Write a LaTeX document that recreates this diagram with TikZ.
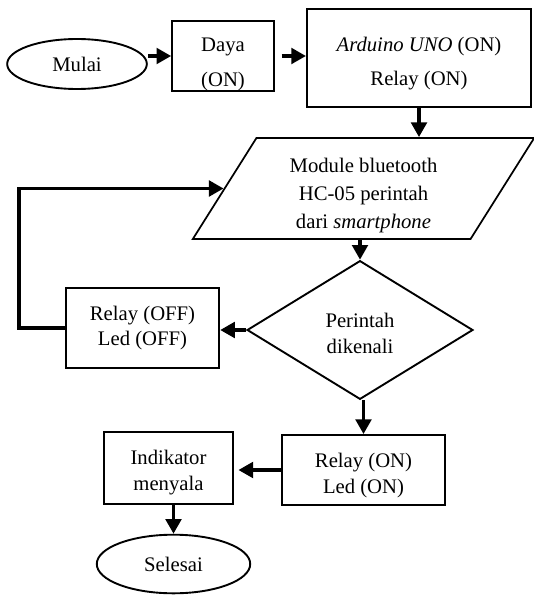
\documentclass[tikz,border=0pt]{standalone}
\usepackage{fontspec}
\setmainfont{Liberation Serif}
\usetikzlibrary{arrows.meta, positioning, shapes.geometric, calc}

\begin{document}
\begin{tikzpicture}[x=0.58pt, y=-0.58pt, font=\fontsize{12}{15}\selectfont,
        box/.style={draw, rectangle, line width=1.1pt, align=center},
        term/.style={draw, ellipse, line width=1.1pt},
        arr/.style={-{Triangle[length=8.5pt, width=9pt]}, line width=2pt}]
        % Flowchart for the bluetooth relay control
        \useasboundingbox (0,0) rectangle (533,595);
        \node[term, minimum width=81pt, minimum height=29pt] (mulai) at (77,64) {Mulai};
        \node[box, minimum width=59pt, minimum height=40pt, inner ysep=0pt, font=\fontsize{12}{20}\selectfont] (daya) at (223,56) {\rule{0pt}{17.7pt}Daya\\(ON)};
        \node[box, minimum width=130pt, minimum height=57pt, font=\fontsize{12}{20}\selectfont] (arduino) at (419,58) {\rule{0pt}{14.9pt}\textit{Arduino UNO} (ON)\\Relay (ON)};
        \node[draw, trapezium, trapezium left angle=57.4, trapezium right angle=122.6, trapezium stretches body,
              minimum width=198pt, minimum height=58.6pt, line width=1pt, align=center, font=\fontsize{12}{16}\selectfont] (module) at (363.5,188.5)
              {\rule{0pt}{16.5pt}Module bluetooth\\HC-05 perintah\\dari \textit{smartphone}};
        \node[draw, diamond, minimum width=131pt, minimum height=79pt, line width=1.1pt, align=center] (cek) at (360,330) {\rule{0pt}{12pt}Perintah\\dikenali};
        \node[box, minimum width=89pt, minimum height=46pt] (off) at (142.5,328) {Relay (OFF)\\Led (OFF)};
        \node[box, minimum width=94.5pt, minimum height=40.6pt] (on) at (363.5,470) {\rule{0pt}{14.9pt}Relay (ON)\\Led (ON)};
        \node[box, minimum width=75pt, minimum height=42pt] (indik) at (168.5,468) {\rule{0pt}{13.7pt}Indikator\\menyala};
        \node[term, minimum width=89pt, minimum height=34pt] (selesai) at (173.5,564) {Selesai};

        \draw[arr] (mulai.east |- daya.west) -- (daya.west);
        \draw[arr] ([xshift=4pt]daya.east) -- (arduino.west |- daya.east);
        \draw[arr] (arduino.south) -- (arduino.south |- module.north);
        \draw[arr] (cek.north |- module.south) -- (cek.north);
        \draw[arr] (cek.west) -- (off.east |- cek.west);
        \draw[arr] (off.west) -- ++(-46,0) |- ($(module.bottom left corner)!0.5!(module.top left corner)$);
        \draw[arr] (on.north |- cek.south) -- (on.north);
        \draw[arr] (on.west) -- ([xshift=2.5pt]indik.east |- on.west);
        \draw[arr] (selesai.north |- indik.south) -- (selesai.north);
    \end{tikzpicture}
\end{document}
